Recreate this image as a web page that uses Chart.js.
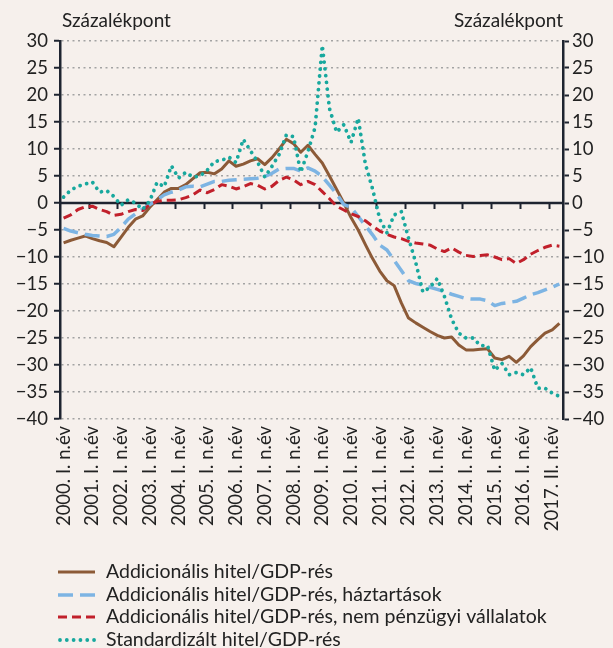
<!DOCTYPE html>
<html>
<head>
<meta charset="utf-8">
<script src="https://cdn.jsdelivr.net/npm/chart.js@4"></script>
<style>
  html, body { margin: 0; padding: 0; background: #f6f0ec; }
  #wrap { width: 613px; height: 648px; }
</style>
</head>
<body>
<div id="wrap"><canvas id="mainChart" width="613" height="648"></canvas></div>
<script>
// Quarterly data, 2000 Q1 - 2017 Q2 (70 quarters)
const yearLabels = ['2000. I. n.év', '2001. I. n.év', '2002. I. n.év', '2003. I. n.év', '2004. I. n.év',
    '2005. I. n.év', '2006. I. n.év', '2007. I. n.év', '2008. I. n.év', '2009. I. n.év', '2010. I. n.év',
    '2011. I. n.év', '2012. I. n.év', '2013. I. n.év', '2014. I. n.év', '2015. I. n.év', '2016. I. n.év',
    '2017. II. n.év'];

const creditGap = [-7.4, -6.9, -6.5, -6.1, -6.6, -7.0, -7.3, -8.1, -6.3, -4.5,
    -3.0, -2.4, -0.8, 0.6, 2.0, 2.7, 2.7, 3.4, 4.5, 5.6,
    5.7, 5.4, 6.3, 7.8, 6.8, 7.2, 7.8, 8.2, 7.1, 8.4,
    10.0, 11.8, 11.0, 9.4, 10.7, 9.0, 7.4, 5.0, 2.5, 0.0,
    -2.7, -5.0, -7.7, -10.3, -12.6, -14.4, -15.3, -18.5, -21.3, -22.2,
    -23.0, -23.8, -24.5, -25.0, -24.8, -26.3, -27.2, -27.2, -27.1, -27.0,
    -28.7, -29.0, -28.4, -29.5, -28.3, -26.6, -25.3, -24.1, -23.5, -22.3];

const householdGap = [-4.7, -5.2, -5.5, -5.8, -6.0, -6.1, -6.2, -5.8, -4.5, -3.0,
    -2.0, -1.1, -0.3, 0.6, 1.5, 2.0, 2.4, 3.0, 3.1, 3.0,
    3.5, 4.0, 4.0, 4.2, 4.3, 4.4, 4.5, 4.6, 4.9, 5.5,
    6.3, 6.4, 6.4, 5.9, 6.5, 5.9, 4.9, 3.3, 1.7, -0.3,
    -0.8, -2.5, -4.2, -5.9, -7.8, -8.7, -10.6, -12.5, -14.4, -14.9,
    -15.2, -15.6, -16.0, -16.4, -16.9, -17.3, -17.7, -17.8, -17.8, -18.1,
    -19.0, -18.6, -18.4, -18.2, -17.6, -17.0, -16.6, -16.1, -15.6, -15.0];

const corporateGap = [-2.8, -2.2, -1.2, -0.7, -0.6, -1.2, -1.6, -2.3, -2.1, -1.6,
    -1.2, -1.4, -0.3, 0.3, 0.5, 0.5, 0.6, 1.0, 1.5, 2.4,
    1.9, 2.5, 3.4, 3.1, 2.6, 3.0, 3.6, 3.3, 2.6, 3.1,
    4.2, 4.8, 4.3, 3.4, 4.0, 3.4, 2.1, 0.8, -0.6, -1.3,
    -2.0, -2.5, -3.3, -4.3, -5.2, -5.8, -6.3, -6.6, -7.1, -7.4,
    -7.6, -7.8, -8.5, -9.0, -8.3, -9.1, -9.7, -9.9, -9.7, -9.6,
    -10.0, -10.5, -10.3, -11.2, -10.5, -9.5, -8.8, -8.2, -7.8, -8.0];

const standardGap = [1.1, 2.4, 3.1, 3.5, 3.9, 2.0, 2.3, 1.2, -0.4, 0.6,
    0.0, -1.2, 0.4, 3.8, 3.0, 6.9, 4.6, 5.7, 4.8, 5.0,
    6.1, 7.7, 7.9, 8.5, 7.5, 11.8, 9.7, 7.6, 4.8, 6.8,
    9.0, 12.6, 12.3, 5.7, 9.5, 14.0, 29.2, 17.5, 13.1, 14.5,
    11.2, 15.7, 7.2, 2.6, -3.0, -5.5, -2.2, -1.6, -6.5, -11.0,
    -16.5, -15.6, -14.0, -17.3, -21.5, -24.1, -25.0, -25.0, -26.4, -26.4,
    -31.0, -29.7, -31.8, -31.4, -31.8, -30.5, -34.3, -34.3, -35.2, -35.8];

const seriesNames = ['Addicionális hitel/GDP-rés', 'Addicionális hitel/GDP-rés, háztartások',
    'Addicionális hitel/GDP-rés, nem pénzügyi vállalatok', 'Standardizált hitel/GDP-rés'];

const labels = [];
for (let i = 0; i < creditGap.length; i++) {
    labels.push(i % 4 === 0 ? yearLabels[i / 4] : '');
}

const FONT = 'Lato';
const AXIS = '#1e2430';
const TEXT = '#222222';

const colors = ['#8c5a37', '#7db4e3', '#c1202b', '#18a89e'];
const dashes = [[], [15, 7], [9, 5], [0.01, 6.8]];
const widths = [3, 3.5, 3, 3.8];

// zero line, year ticks, unit labels, legend
const extras = {
    id: 'extras',
    beforeDatasetsDraw(chart) {
        const {ctx, chartArea, scales} = chart;
        const y0 = scales.y.getPixelForValue(0);
        ctx.save();
        ctx.strokeStyle = AXIS;
        ctx.lineWidth = 2.5;
        ctx.beginPath();
        ctx.moveTo(chartArea.left, y0);
        ctx.lineTo(chartArea.right, y0);
        ctx.stroke();
        const step = chartArea.width / labels.length;
        ctx.lineWidth = 2;
        for (let k = 4; k < labels.length; k += 4) {
            const x = Math.round(chartArea.left + k * step) + 0.5;
            ctx.beginPath();
            ctx.moveTo(x, y0);
            ctx.lineTo(x, y0 + 6);
            ctx.stroke();
        }
        ctx.restore();
    },
    afterDraw(chart) {
        const {ctx, chartArea} = chart;
        ctx.save();
        ctx.fillStyle = TEXT;
        ctx.font = '19px ' + FONT;
        ctx.textBaseline = 'middle';
        ctx.textAlign = 'left';
        ctx.fillText('Százalékpont', 62, 21);
        ctx.textAlign = 'right';
        ctx.fillText('Százalékpont', chartArea.right, 21);

        const rows = [572, 595, 617, 640];
        ctx.font = '19.5px ' + FONT;
        ctx.textAlign = 'left';
        seriesNames.forEach((name, i) => {
            ctx.save();
            ctx.strokeStyle = colors[i];
            ctx.lineWidth = widths[i];
            ctx.setLineDash(dashes[i]);
            ctx.lineCap = i === 3 ? 'round' : 'butt';
            ctx.beginPath();
            ctx.moveTo(i === 3 ? 60 : 58, rows[i]);
            ctx.lineTo(95, rows[i]);
            ctx.stroke();
            ctx.restore();
            ctx.fillText(name, 106, rows[i]);
        });
        ctx.restore();
    }
};

const fmt = (v) => (v < 0 ? '\u2212' + Math.abs(v) : '' + v);

document.addEventListener('DOMContentLoaded', () => {
    const ctx = document.getElementById('mainChart').getContext('2d');

    new Chart(ctx, {
        type: 'line',
        data: {
            labels: labels,
            datasets: [creditGap, householdGap, corporateGap, standardGap].map((d, i) => ({
                label: seriesNames[i],
                data: d,
                borderColor: colors[i],
                borderWidth: widths[i],
                borderDash: dashes[i],
                borderCapStyle: i === 3 ? 'round' : 'butt',
                borderJoinStyle: 'round',
                fill: false,
                tension: 0,
                pointRadius: 0,
                order: 4 - i
            }))
        },
        options: {
            responsive: false,
            animation: false,
            layout: {
                padding: { top: 41, bottom: 88, left: 0, right: 0 }
            },
            plugins: {
                legend: { display: false },
                tooltip: { enabled: false }
            },
            scales: {
                x: {
                    offset: true,
                    grid: { display: false, drawTicks: false },
                    border: { display: false },
                    afterFit: (scale) => { scale.height = 141; },
                    ticks: {
                        autoSkip: false,
                        minRotation: 90,
                        maxRotation: 90,
                        padding: 7,
                        color: TEXT,
                        font: { size: 18.5, family: FONT }
                    }
                },
                y: {
                    position: 'left',
                    min: -40,
                    max: 30,
                    afterFit: (scale) => { scale.width = 60; },
                    grid: {
                        color: (c) => (c.tick && c.tick.value === 0 ? 'rgba(0,0,0,0)' : '#a3a3a3'),
                        lineWidth: 1.5,
                        tickColor: AXIS,
                        tickWidth: 2,
                        tickLength: 6
                    },
                    border: { display: true, color: AXIS, width: 2.5, dash: [2, 3.5] },
                    ticks: {
                        stepSize: 5,
                        padding: 6,
                        color: TEXT,
                        font: { size: 18.5, family: FONT },
                        callback: fmt
                    }
                },
                y2: {
                    position: 'right',
                    min: -40,
                    max: 30,
                    afterFit: (scale) => { scale.width = 50; },
                    grid: {
                        drawOnChartArea: false,
                        tickColor: AXIS,
                        tickWidth: 2,
                        tickLength: 6
                    },
                    border: { display: true, color: AXIS, width: 2.5 },
                    ticks: {
                        stepSize: 5,
                        padding: 3,
                        color: TEXT,
                        font: { size: 18.5, family: FONT },
                        callback: fmt
                    }
                }
            }
        },
        plugins: [extras]
    });
});
</script>
</body>
</html>
